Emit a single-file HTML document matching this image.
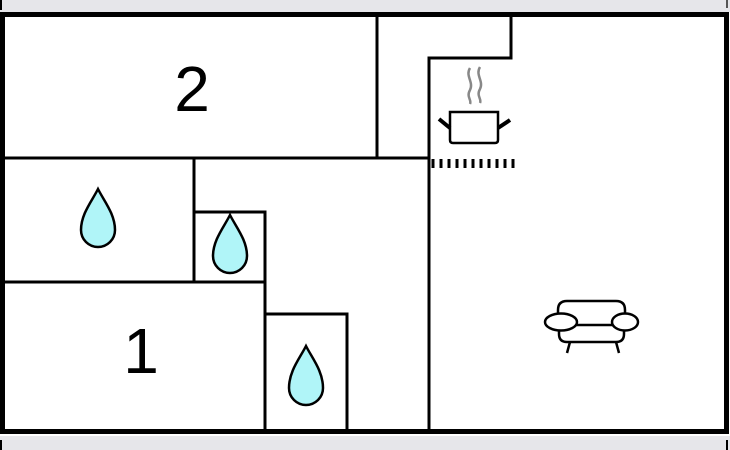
<!DOCTYPE html>
<html><head><meta charset="utf-8"><style>
html,body{margin:0;padding:0;background:#fff;}
svg{display:block;}
text{font-family:"Liberation Sans",sans-serif;}
</style></head><body>
<svg width="730" height="450" viewBox="0 0 730 450" xmlns="http://www.w3.org/2000/svg">
<rect x="0" y="0" width="730" height="12" fill="#e6e6ea"/>
<rect x="0" y="436" width="730" height="14" fill="#e6e6ea"/>
<rect x="0" y="0" width="2" height="10" fill="#000"/>
<rect x="726" y="0" width="2" height="8" fill="#555"/>
<rect x="0" y="440" width="2" height="10" fill="#000"/>
<rect x="726" y="440" width="2" height="10" fill="#000"/>
<rect x="2.5" y="14.5" width="724" height="417" fill="#fff" stroke="#000" stroke-width="5"/>
<g stroke="#000" stroke-width="3" fill="none" stroke-linecap="square">
<line x1="5" y1="158" x2="429" y2="158"/>
<line x1="377" y1="17" x2="377" y2="158"/>
<polyline points="429,430 429,58 511,58 511,17"/>
<line x1="194" y1="158" x2="194" y2="282"/>
<line x1="5" y1="282" x2="265" y2="282"/>
<polyline points="194,212 265,212 265,430"/>
<polyline points="265,314 347,314 347,430"/>
</g>
<text x="192" y="111" font-size="64" text-anchor="middle">2</text>
<text x="141" y="373" font-size="64" text-anchor="middle">1</text>
<g fill="#b0f5f8" stroke="#000" stroke-width="2.5">
<path d="M98,189 C104,201 115,214 115,230 A17,17 0 0 1 81,230 C81,214 92,201 98,189 Z"/>
<path d="M230,215 C236,227 247,240 247,256 A17,17 0 0 1 213,256 C213,240 224,227 230,215 Z"/>
<path d="M306,346 C312,358 323,371 323,388 A17,17 0 0 1 289,388 C289,371 300,358 306,346 Z"/>
</g>
<!-- pot -->
<g stroke="#888" stroke-width="2.5" fill="none">
<path d="M470,68 C465,76 474,82 470,90 C466,97 472,100 470,104"/>
<path d="M480,67 C475,75 484,81 480,89 C476,96 482,99 480,103"/>
</g>
<path d="M450,112 L498,112 L498,140 Q498,143 495,143 L453,143 Q450,143 450,140 Z" fill="#fff" stroke="#000" stroke-width="2.5"/>
<line x1="439" y1="119" x2="450" y2="128" stroke="#000" stroke-width="4"/>
<line x1="498" y1="128" x2="510" y2="120" stroke="#000" stroke-width="4"/>
<g stroke="#000" stroke-width="3">
<line x1="433" y1="159" x2="433" y2="168"/><line x1="441" y1="159" x2="441" y2="168"/>
<line x1="449" y1="159" x2="449" y2="168"/><line x1="457" y1="159" x2="457" y2="168"/>
<line x1="465" y1="159" x2="465" y2="168"/><line x1="473" y1="159" x2="473" y2="168"/>
<line x1="481" y1="159" x2="481" y2="168"/><line x1="489" y1="159" x2="489" y2="168"/>
<line x1="497" y1="159" x2="497" y2="168"/><line x1="505" y1="159" x2="505" y2="168"/>
<line x1="513" y1="159" x2="513" y2="168"/>
</g>
<!-- sofa -->
<g stroke="#000" stroke-width="2.5" fill="#fff">
<path d="M558,322 L558,310 Q558,301 567,301 L616,301 Q625,301 625,310 L625,322"/>
<path d="M559,326 L559,334 Q559,342 567,342 L616,342 Q624,342 624,334 L624,326"/>
<line x1="565" y1="325" x2="618" y2="325"/>
<ellipse cx="561" cy="322" rx="16" ry="8.5"/>
<ellipse cx="625" cy="322" rx="13" ry="8.5"/>
<line x1="570" y1="342" x2="567" y2="353"/>
<line x1="616" y1="342" x2="619" y2="353"/>
</g>
</svg>
</body></html>
